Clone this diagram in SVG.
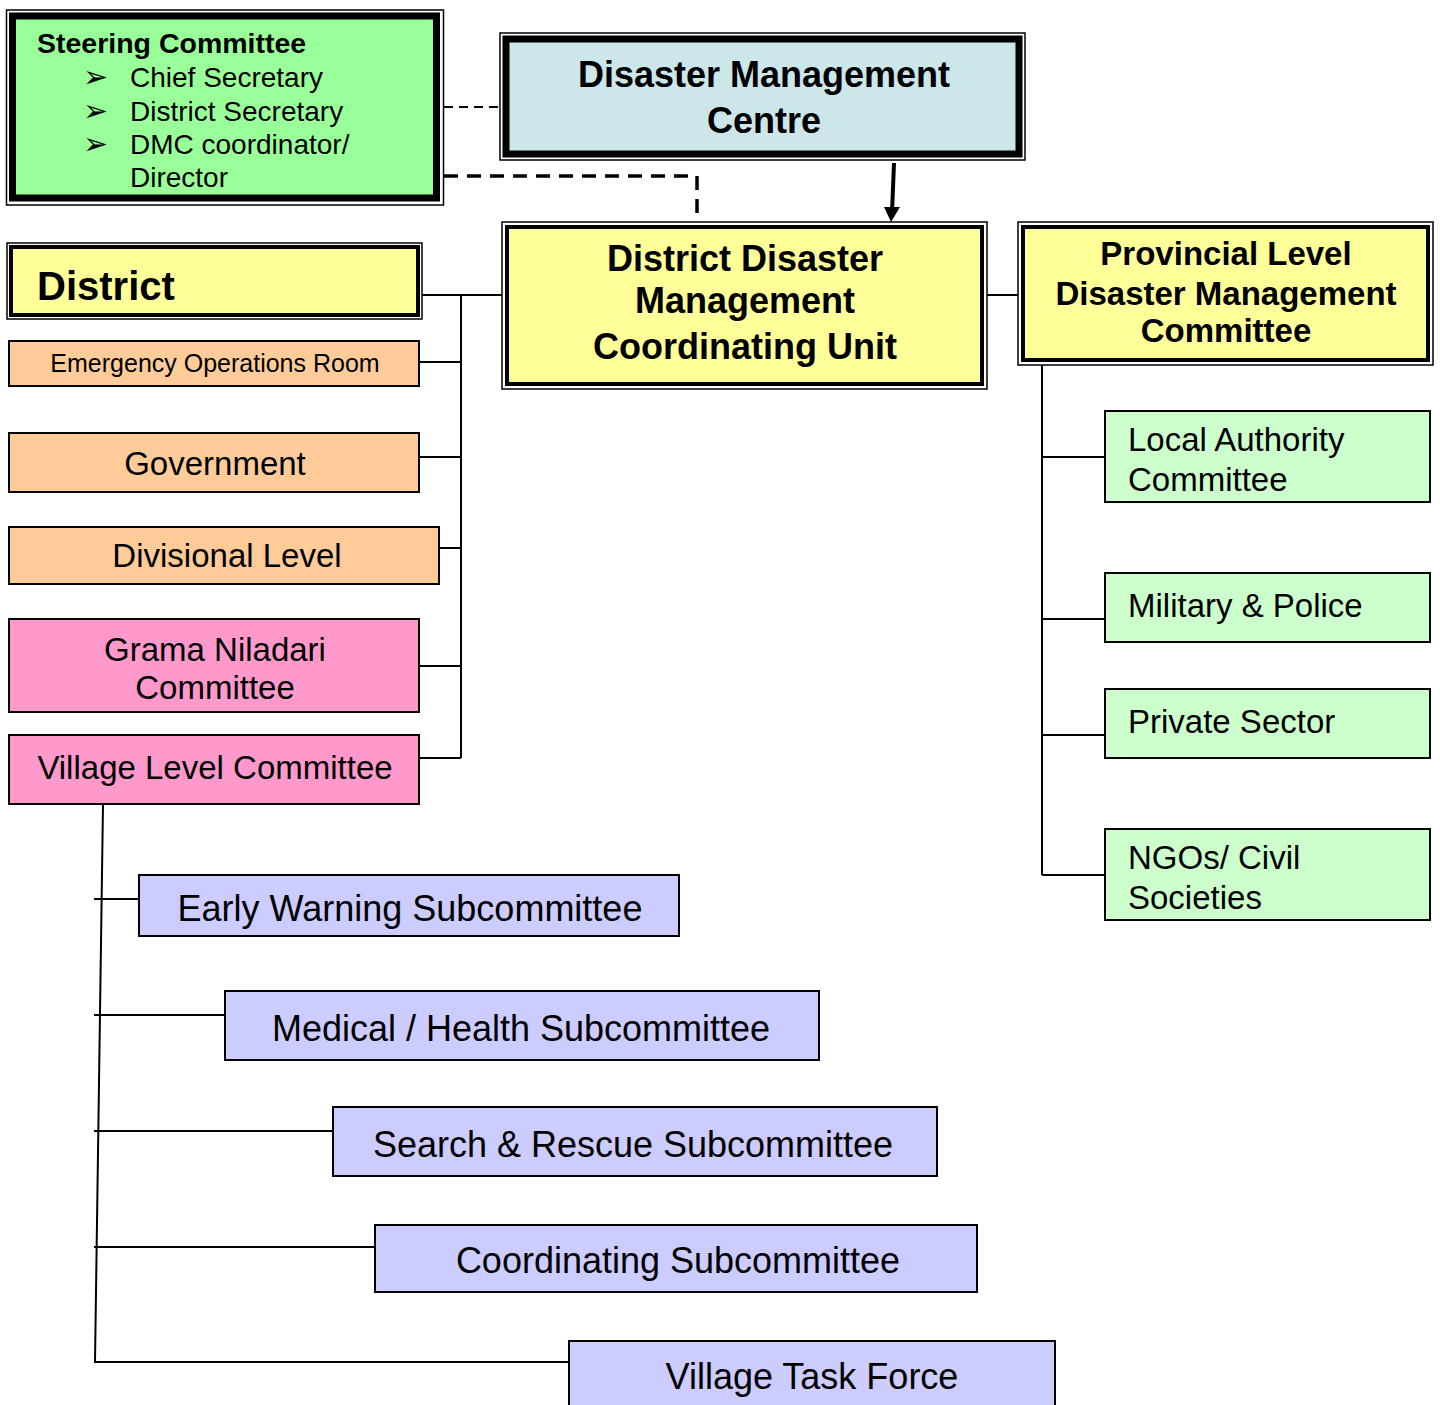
<svg xmlns="http://www.w3.org/2000/svg" width="1440" height="1405" viewBox="0 0 1440 1405">
<defs>
<style>
.t{font-family:"Liberation Sans",Arial,sans-serif;fill:#000}
.b{font-weight:bold}
.c{text-anchor:middle}
.thin{fill:#fff;stroke:#000;stroke-width:1.5}
.box{stroke:#000;stroke-width:2}
.ln{fill:none;stroke:#000;stroke-width:2}
</style>
</defs>
<rect width="1440" height="1405" fill="#fff"/>

<g id="connectors">
<path class="ln" d="M444,107 H500" stroke-dasharray="9,6"/>
<path d="M444,176 H697 V222" fill="none" stroke="#000" stroke-width="3.5" stroke-dasharray="14,9"/>
<path d="M894,163 L892,213" stroke="#000" stroke-width="4"/>
<path d="M884,207 L900,207 L891,222 Z" fill="#000"/>
<path class="ln" d="M422,295 H502"/>
<path class="ln" d="M461,295 V758"/>
<path class="ln" d="M419,362 H461 M419,457 H461 M439,548 H461 M419,666 H461 M419,758 H461"/>
<path class="ln" d="M987,295 H1018"/>
<path class="ln" d="M1042,365 V875 M1042,457 H1105 M1042,619 H1105 M1042,735 H1105 M1042,875 H1105"/>
<path class="ln" d="M103,804 L95,1362 H568"/>
<path class="ln" d="M94,899 H141 M94,1015 H229 M94,1131 H333 M94,1247 H375"/>
</g>

<g id="steering">
<rect class="thin" x="6.5" y="10" width="437" height="195"/>
<rect x="12.5" y="16" width="424" height="182" fill="#99FF99" stroke="#000" stroke-width="7"/>
<text class="t b" x="37" y="53" font-size="28.5">Steering Committee</text>
<g font-family="DejaVu Sans,sans-serif" font-size="30">
<text x="83" y="87">➢</text>
<text x="83" y="121">➢</text>
<text x="83" y="154">➢</text>
</g>
<text class="t" x="130" y="87" font-size="28">Chief Secretary</text>
<text class="t" x="130" y="121" font-size="28">District Secretary</text>
<text class="t" x="130" y="154" font-size="28">DMC coordinator/</text>
<text class="t" x="130" y="187" font-size="28">Director</text>
</g>

<g id="dmc">
<rect class="thin" x="500" y="33" width="525" height="127"/>
<rect x="506" y="39" width="513" height="115" fill="#CCE6EA" stroke="#000" stroke-width="7"/>
<text class="t b c" x="764" y="87" font-size="36">Disaster Management</text>
<text class="t b c" x="764" y="133" font-size="36">Centre</text>
</g>

<g id="ddmcu">
<rect class="thin" x="502" y="222" width="485" height="167"/>
<rect x="507" y="227" width="475" height="157" fill="#FFFF99" stroke="#000" stroke-width="4"/>
<text class="t b c" x="745" y="271" font-size="36">District Disaster</text>
<text class="t b c" x="745" y="313" font-size="36">Management</text>
<text class="t b c" x="745" y="359" font-size="36">Coordinating Unit</text>
</g>

<g id="provincial">
<rect class="thin" x="1018" y="222" width="415" height="143"/>
<rect x="1023" y="227" width="405" height="133" fill="#FFFF99" stroke="#000" stroke-width="4"/>
<text class="t b c" x="1226" y="265" font-size="33">Provincial Level</text>
<text class="t b c" x="1226" y="305" font-size="33">Disaster Management</text>
<text class="t b c" x="1226" y="342" font-size="33">Committee</text>
</g>

<g id="district">
<rect class="thin" x="7" y="243" width="415" height="76"/>
<rect x="11" y="247" width="407" height="68" fill="#FFFF99" stroke="#000" stroke-width="4"/>
<text class="t b" x="37" y="300" font-size="40">District</text>
</g>

<g id="eor">
<rect class="box" x="9" y="341" width="410" height="45" fill="#FFCC99"/>
<text class="t c" x="215" y="372" font-size="25">Emergency Operations Room</text>
</g>
<g id="government">
<rect class="box" x="9" y="433" width="410" height="59" fill="#FFCC99"/>
<text class="t c" x="215" y="475" font-size="33">Government</text>
</g>
<g id="divisional">
<rect class="box" x="9" y="527" width="430" height="57" fill="#FFCC99"/>
<text class="t c" x="227" y="567" font-size="33">Divisional Level</text>
</g>
<g id="grama">
<rect class="box" x="9" y="619" width="410" height="93" fill="#FF99CC"/>
<text class="t c" x="215" y="661" font-size="33">Grama Niladari</text>
<text class="t c" x="215" y="699" font-size="33">Committee</text>
</g>
<g id="village">
<rect class="box" x="9" y="735" width="410" height="69" fill="#FF99CC"/>
<text class="t c" x="215" y="779" font-size="33">Village Level Committee</text>
</g>

<g id="local-authority">
<rect class="box" x="1105" y="411" width="325" height="91" fill="#CCFFCC"/>
<text class="t" x="1128" y="451" font-size="33">Local Authority</text>
<text class="t" x="1128" y="491" font-size="33">Committee</text>
</g>
<g id="military">
<rect class="box" x="1105" y="573" width="325" height="69" fill="#CCFFCC"/>
<text class="t" x="1128" y="617" font-size="33">Military &amp; Police</text>
</g>
<g id="private">
<rect class="box" x="1105" y="689" width="325" height="69" fill="#CCFFCC"/>
<text class="t" x="1128" y="733" font-size="33">Private Sector</text>
</g>
<g id="ngos">
<rect class="box" x="1105" y="829" width="325" height="91" fill="#CCFFCC"/>
<text class="t" x="1128" y="869" font-size="33">NGOs/ Civil</text>
<text class="t" x="1128" y="909" font-size="33">Societies</text>
</g>

<g id="early-warning">
<rect class="box" x="139" y="875" width="540" height="61" fill="#CCCCFF"/>
<text class="t c" x="410" y="921" font-size="36">Early Warning Subcommittee</text>
</g>
<g id="medical">
<rect class="box" x="225" y="991" width="594" height="69" fill="#CCCCFF"/>
<text class="t c" x="521" y="1041" font-size="36">Medical / Health Subcommittee</text>
</g>
<g id="search">
<rect class="box" x="333" y="1107" width="604" height="69" fill="#CCCCFF"/>
<text class="t c" x="633" y="1157" font-size="36">Search &amp; Rescue Subcommittee</text>
</g>
<g id="coordinating">
<rect class="box" x="375" y="1225" width="602" height="67" fill="#CCCCFF"/>
<text class="t c" x="678" y="1273" font-size="36">Coordinating Subcommittee</text>
</g>
<g id="task-force">
<rect class="box" x="569" y="1341" width="486" height="70" fill="#CCCCFF"/>
<text class="t c" x="812" y="1389" font-size="36">Village Task Force</text>
</g>
</svg>
